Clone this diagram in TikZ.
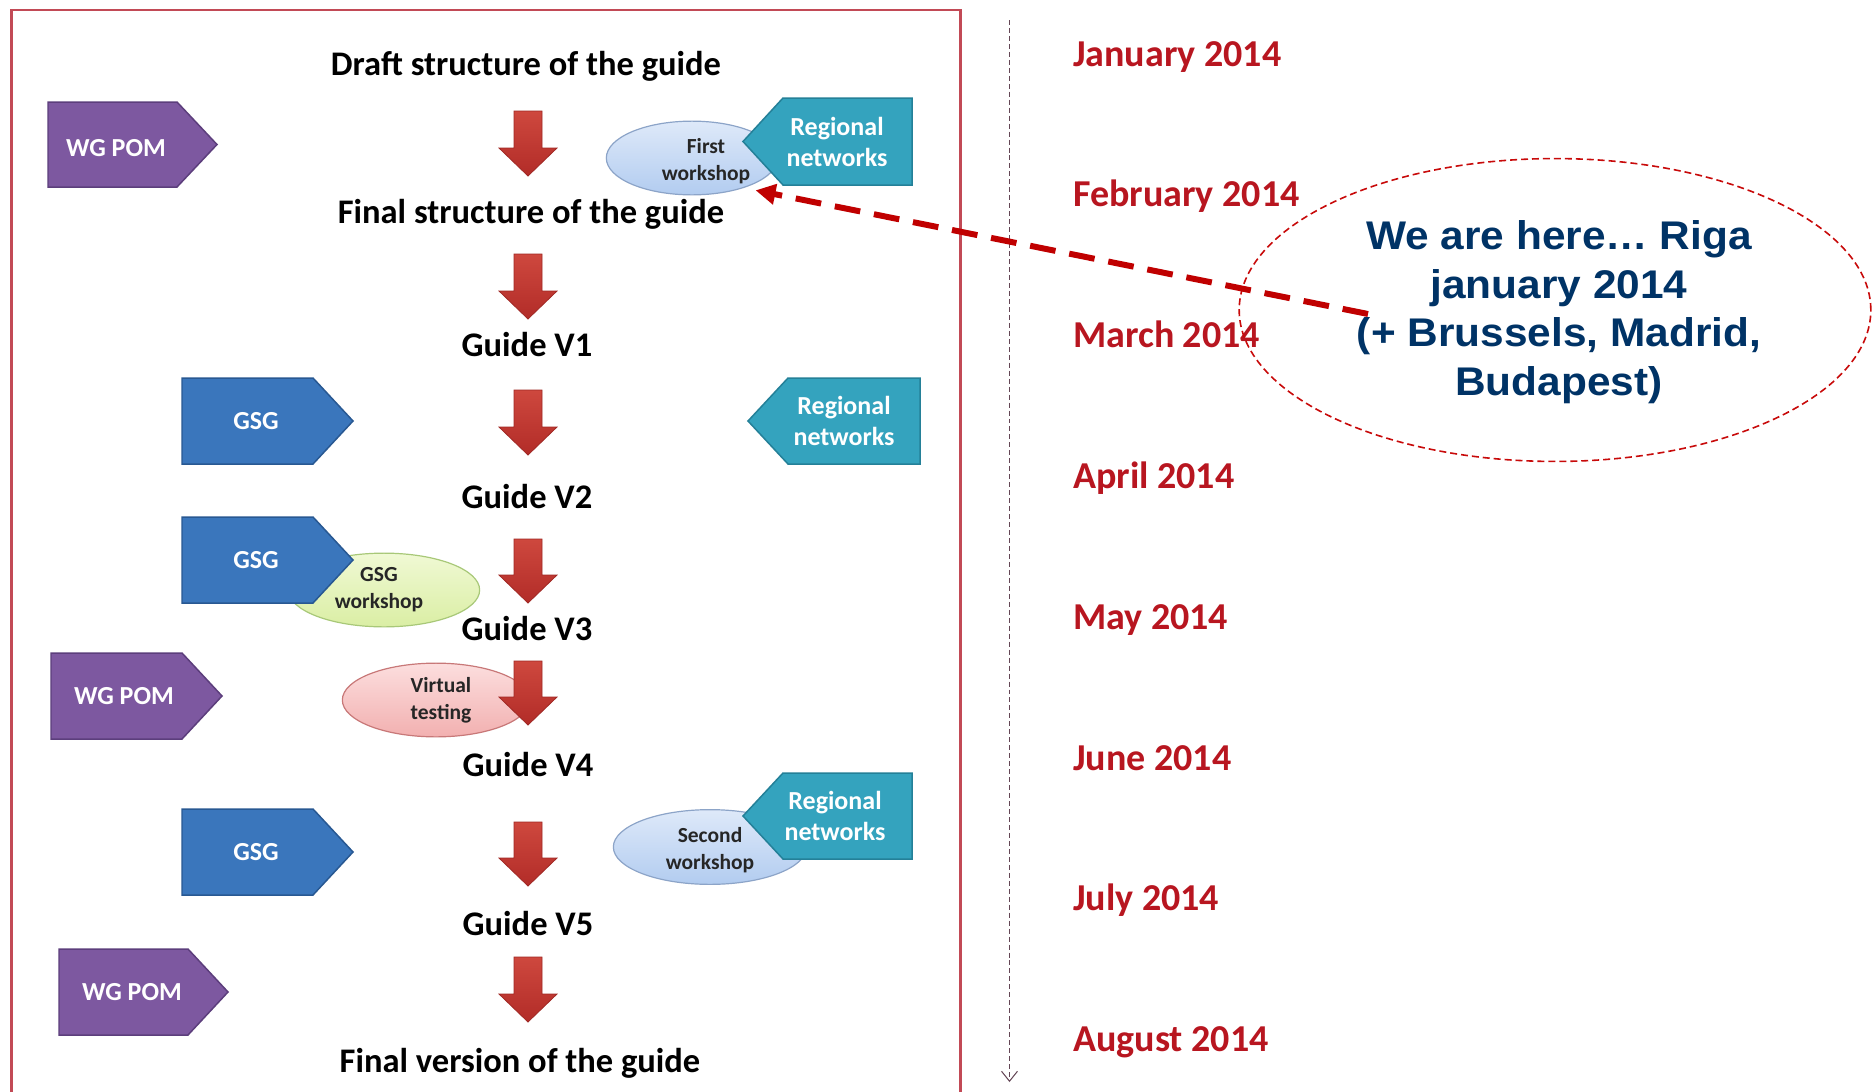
\documentclass[tikz,border=0pt]{standalone}
\usepackage{fontspec}
\setmainfont{Carlito}
\newfontfamily\calloutfont[FakeStretch=1.06]{Liberation Sans}
\usetikzlibrary{arrows.meta,shapes.geometric}
\definecolor{purp}{RGB}{125,88,160}
\definecolor{purpD}{RGB}{92,62,124}
\definecolor{gsgb}{RGB}{58,118,188}
\definecolor{gsgD}{RGB}{40,88,146}
\definecolor{rnteal}{RGB}{52,163,190}
\definecolor{rntealD}{RGB}{36,128,152}
\definecolor{arrred}{RGB}{196,60,52}
\definecolor{arrredT}{RGB}{206,72,62}
\definecolor{arrredB}{RGB}{178,44,40}
\definecolor{arrredD}{RGB}{160,40,36}
\definecolor{monthred}{RGB}{184,22,32}
\definecolor{callnavy}{RGB}{0,51,102}
\definecolor{framecol}{RGB}{194,74,86}
\definecolor{calred}{RGB}{200,10,10}
\definecolor{herered}{RGB}{192,0,0}
\definecolor{tlcol}{RGB}{100,70,85}
\definecolor{wbT}{RGB}{222,233,249}
\definecolor{wbB}{RGB}{178,204,240}
\definecolor{wbD}{RGB}{140,164,200}
\definecolor{wgT}{RGB}{240,249,212}
\definecolor{wgB}{RGB}{218,238,164}
\definecolor{wgD}{RGB}{168,200,120}
\definecolor{wpT}{RGB}{252,222,222}
\definecolor{wpB}{RGB}{242,176,176}
\definecolor{wpD}{RGB}{200,120,120}
\newcommand{\pentR}[5]{\path[#1] (#2,#4) -- ({#3-40},#4) -- (#3,{(#4+#5)/2}) -- ({#3-40},#5) -- (#2,#5) -- cycle;}
\newcommand{\pentL}[5]{\path[#1] (#3,#4) -- ({#2+40},#4) -- (#2,{(#4+#5)/2}) -- ({#2+40},#5) -- (#3,#5) -- cycle;}
\begin{document}
\begin{tikzpicture}[x=1bp,y=-1bp,
  wgpom/.style={fill=purp, draw=purpD, line width=1.5},
  gsgbox/.style={fill=gsgb, draw=gsgD, line width=1.5},
  rnbox/.style={fill=rnteal, draw=rntealD, line width=1.5},
  ptext/.style={text=white, font=\fontsize{26bp}{31bp}\selectfont\bfseries, align=center, inner sep=0},
  flow/.style={font=\fontsize{34.5bp}{40bp}\selectfont\bfseries, anchor=base, inner sep=0},
  month/.style={font=\fontsize{38bp}{44bp}\selectfont\bfseries, text=monthred, anchor=base west, inner sep=0},
  blockarrow/.style={top color=arrredT, bottom color=arrredB, draw=arrredD, line width=0.8},
  wsell/.style={ellipse, inner sep=0, line width=1.2},
  wsblue/.style={wsell, draw=wbD, top color=wbT, bottom color=wbB},
  wsgreen/.style={wsell, draw=wgD, top color=wgT, bottom color=wgB},
  wspink/.style={wsell, draw=wpD, top color=wpT, bottom color=wpB},
  etext/.style={font=\fontsize{21.5bp}{27bp}\selectfont\bfseries, text=black!85, align=center, inner sep=0},
  tline/.style={draw=tlcol, line width=1, dash pattern=on 5 off 3, -{Straight Barb[length=10,width=16]}},
  herearrow/.style={draw=herered, line width=6, dash pattern=on 26 off 14, -{Triangle[length=20,width=20]}, shorten >=12}
]
\useasboundingbox (0,0) rectangle (1873,1091);
\fill[white] (0,0) rectangle (1873,1091);
% frame
\draw[framecol, line width=3] (11.5,10) rectangle (960,1110);
% timeline
\coordinate (tltop) at (1009.5,20);
\coordinate (tlbot) at (1009.5,1082);
\draw[tline] (tltop) -- (tlbot);
\foreach \m [count=\i from 0] in {January,February,March,April,May,June,July,August}
  \node[month] (m\i) at (1073,{66+\i*140.8}) {\m\ 2014};
% workshop ellipses
\node[wsblue, minimum width=172, minimum height=74] (fw) at (692,158) {};
\node[etext] (fwt) at (706,161) {First\\workshop};
\node[wsgreen, minimum width=192, minimum height=74] (gw) at (384,590) {};
\node[etext] (gwt) at (379,590) {GSG\\workshop};
\node[wspink, minimum width=188, minimum height=74] (vt) at (436,700) {};
\node[etext] (vtt) at (441,700) {Virtual\\testing};
\node[wsblue, minimum width=194, minimum height=75] (sw) at (710,847) {};
\node[etext] (swt) at (710,850) {Second\\workshop};
% pentagons
\pentR{wgpom}{48}{217}{102}{187}
\node[ptext] (wg1) at (116,148) {WG POM};
\pentL{rnbox}{743}{912}{98}{185}
\node[ptext] (rn1) at (837,142) {Regional\\networks};
\pentR{gsgbox}{182}{353}{378}{464}
\node[ptext] (gsg1) at (256,421) {GSG};
\pentL{rnbox}{748}{920}{378}{464}
\node[ptext] (rn2) at (844,421) {Regional\\networks};
\pentR{gsgbox}{182}{353}{517}{603}
\node[ptext] (gsg2) at (256,560) {GSG};
\pentR{wgpom}{51}{222}{653}{739}
\node[ptext] (wg2) at (124,696) {WG POM};
\pentR{gsgbox}{182}{353}{809}{895}
\node[ptext] (gsg3) at (256,852) {GSG};
\pentL{rnbox}{743}{912}{773}{859}
\node[ptext] (rn3) at (835,816) {Regional\\networks};
\pentR{wgpom}{59}{228}{949}{1035}
\node[ptext] (wg3) at (132,992) {WG POM};
% flow labels
\node[flow] (draft) at (526,75) {Draft structure of the guide};
\node[flow] (fstruct) at (531,223) {Final structure of the guide};
\node[flow] (v1) at (527,356) {Guide V1};
\node[flow] (v2) at (527,508) {Guide V2};
\node[flow] (v3) at (527,640) {Guide V3};
\node[flow] (v4) at (528,776) {Guide V4};
\node[flow] (v5) at (528,935) {Guide V5};
\node[flow] (fversion) at (520,1072) {Final version of the guide};
% block arrows
\foreach \t/\b in {111/176,254/319,390/455,539/603,661/725,822/886,957/1022}
  \path[blockarrow] (514,\t) -- (542,\t) -- (542,{\b-28}) -- (557,{\b-28}) -- (528,\b) -- (499,{\b-28}) -- (514,{\b-28}) -- cycle;
% callout
\node[ellipse, draw=calred, line width=1.6, dash pattern=on 7 off 4, minimum width=634, minimum height=304, inner sep=0] (callout) at (1555,310) {};
\node[align=center, inner sep=0, text=callnavy, font=\calloutfont\bfseries\fontsize{40bp}{48.5bp}\selectfont] (calltext) at (1559,312) {We are here… Riga\\january 2014\\(+ Brussels, Madrid,\\Budapest)};
\coordinate (here) at (1368,314);
\draw[herearrow] (here) -- (fw.-30);
\end{tikzpicture}
\end{document}
